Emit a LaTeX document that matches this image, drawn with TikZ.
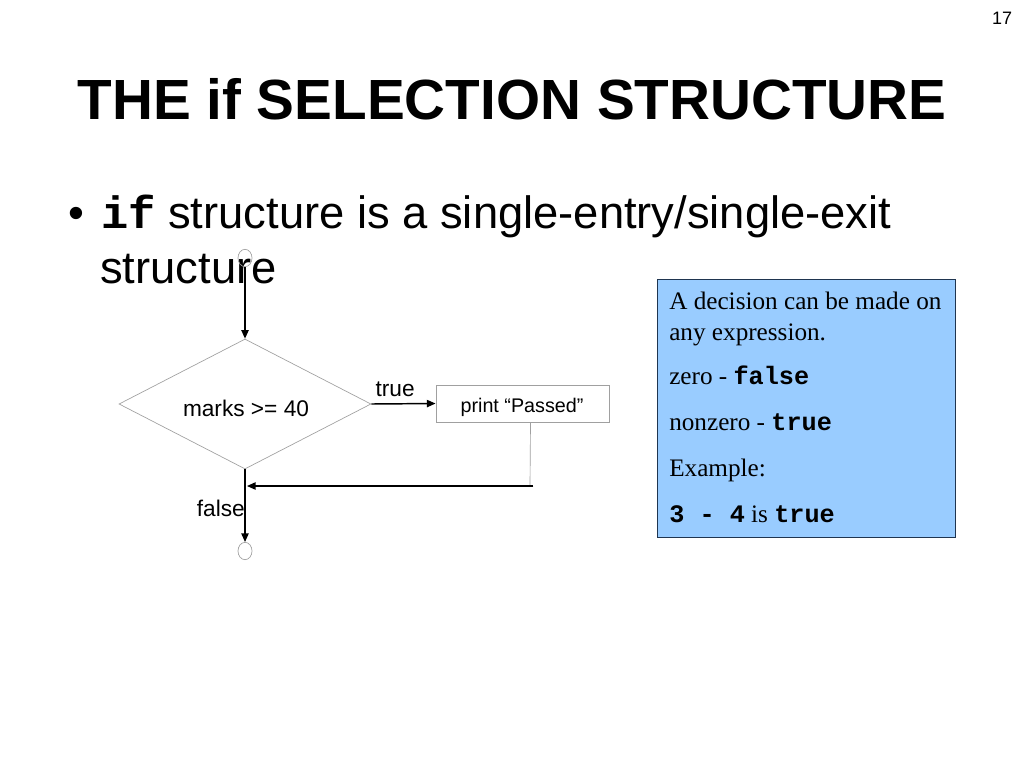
\documentclass[tikz,border=0pt]{standalone}
\usepackage{fontspec}
\setmainfont{Liberation Sans}
\newfontfamily\serifboxfont{Liberation Serif}
\setmonofont{Liberation Mono}
\usetikzlibrary{shapes.geometric,arrows.meta}
\definecolor{boxblue}{HTML}{99CCFF}
\definecolor{boxedge}{HTML}{1F3550}
\definecolor{shapegray}{HTML}{A0A0A0}
\begin{document}
\begin{tikzpicture}[x=0.75pt,y=-0.75pt,
  conn/.style={draw=black,line width=1.1pt,-{Triangle[length=6.5pt,width=5.5pt]}},
  grayshape/.style={draw=shapegray,line width=0.5pt},
  term/.style={grayshape,ellipse,minimum width=10.5pt,minimum height=13pt,inner sep=0pt},
  lbl/.style={font=\fontsize{17}{19}\selectfont,inner sep=0pt},
  btext/.style={anchor=base west,inner sep=0pt,font=\serifboxfont\fontsize{18.9}{21}\selectfont},
  bullettext/.style={anchor=base west,inner sep=0pt,font=\fontsize{34}{40}\selectfont}
]
\useasboundingbox (0,0) rectangle (1024,768);
\fill[white] (0,0) rectangle (1024,768);
% page number
\node[font=\fontsize{13.5}{15}\selectfont,inner sep=0pt] (pg) at (1002,18) {17};
% title
\node[font=\bfseries\fontsize{42.5}{48}\selectfont,inner sep=0pt,anchor=base] (title) at (512,119) {THE if SELECTION STRUCTURE};
% bullet
\node[bullettext] (bul) at (68,228) {\textbullet};
\node[bullettext] (l1) at (101,228) {\texttt{\bfseries if} structure is a single-entry/single-exit};
\node[bullettext] (l2) at (100,283) {structure};
% flowchart
\node[term] (start) at (245,258) {};
\node[grayshape,diamond,aspect=1.94,minimum width=189pt,minimum height=97.5pt,inner sep=0pt] (dec) at (245,404) {};
\node[lbl] (dectext) at (246,408) {marks >= 40};
\node[grayshape,rectangle,minimum width=130pt,minimum height=28pt,inner sep=0pt] (pr) at (522.5,403.5) {};
\node[font=\fontsize{14.8}{17}\selectfont,inner sep=0pt] (prtext) at (522,407) {print “Passed”};
\node[term] (stop) at (245,551) {};
\coordinate (merge) at (247,486);
\coordinate (corner) at (530,486);
\draw[conn] (start.south) -- (dec.north);
\draw[conn] (dec.east) -- node[lbl,above=5pt,pos=0.37] (truelbl) {true} (pr.west);
\draw[grayshape] ([xshift=6pt]pr.south) -- (corner);
\draw[conn] ([xshift=2.5pt]corner) -- (merge);
\draw[conn] (dec.south) -- (stop.north);
\node[lbl,anchor=east] (falselbl) at (245,508) {false};
% blue box
\node[draw=boxedge,fill=boxblue,line width=0.8pt,minimum width=224pt,minimum height=194pt,inner sep=0pt] (note) at (806.5,408.5) {};
\node[btext] (t1) at (669,309) {A decision can be made on};
\node[btext] (t2) at (669,340) {any expression.};
\node[btext] (t3) at (669,384) {zero - \texttt{\bfseries false}};
\node[btext] (t4) at (669,430) {nonzero - \texttt{\bfseries true}};
\node[btext] (t5) at (669,476) {Example:};
\node[btext] (t6) at (669,522) {\texttt{\bfseries 3 - 4} is \texttt{\bfseries true}};
\end{tikzpicture}
\end{document}
